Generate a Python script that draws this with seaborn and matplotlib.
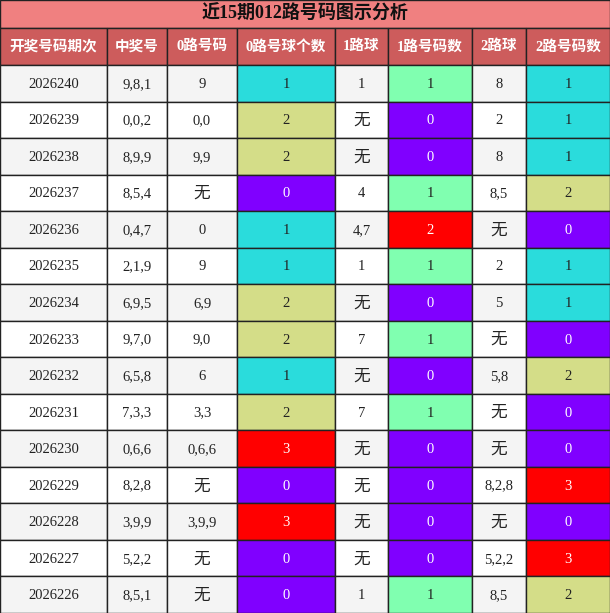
import matplotlib
matplotlib.use("Agg")
import matplotlib.pyplot as plt
from matplotlib.patches import Rectangle
import seaborn as sns

sns.set_theme(style="white")
plt.rcParams['font.family'] = ['Liberation Serif', 'Noto Sans CJK SC']

title = "近15期012路号码图示分析"
headers = ["开奖号码期次", "中奖号", "0路号码", "0路号球个数", "1路球", "1路号码数", "2路球", "2路号码数"]

periods = ["2026240", "2026239", "2026238", "2026237", "2026236", "2026235", "2026234", "2026233",
           "2026232", "2026231", "2026230", "2026229", "2026228", "2026227", "2026226"]
draws = ["9,8,1", "0,0,2", "8,9,9", "8,5,4", "0,4,7", "2,1,9", "6,9,5", "9,7,0",
         "6,5,8", "7,3,3", "0,6,6", "8,2,8", "3,9,9", "5,2,2", "8,5,1"]
road0 = ["9", "0,0", "9,9", "无", "0", "9", "6,9", "9,0", "6", "3,3", "0,6,6", "无", "3,9,9", "无", "无"]
count0 = [1, 2, 2, 0, 1, 1, 2, 2, 1, 2, 3, 0, 3, 0, 0]
road1 = ["1", "无", "无", "4", "4,7", "1", "无", "7", "无", "7", "无", "无", "无", "无", "1"]
count1 = [1, 0, 0, 1, 2, 1, 0, 1, 0, 1, 0, 0, 0, 0, 1]
road2 = ["8", "2", "8", "8,5", "无", "2", "5", "无", "5,8", "无", "无", "8,2,8", "无", "5,2,2", "8,5"]
count2 = [1, 1, 1, 2, 0, 1, 1, 0, 2, 0, 0, 3, 0, 3, 2]

# colours per count value (1路 column uses its own palette)
pal_02 = {0: "#8000FF", 1: "#2ADCDC", 2: "#D4DD88", 3: "#FF0000"}
pal_1 = {0: "#8000FF", 1: "#80FFB0", 2: "#FF0000", 3: "#FF0000"}

col_edges = [0, 107, 167, 237, 335, 388, 472, 526, 610]
W, H = 610, 613
title_h, head_h = 28, 37
row_h = (H - title_h - head_h) / len(periods)

fig = plt.figure(figsize=(6.10, 6.13), dpi=100)
ax = fig.add_axes([0, 0, 1, 1])
ax.set_xlim(0, W)
ax.set_ylim(H, 0)
ax.axis("off")

# title
ax.add_patch(Rectangle((0, 0), W, title_h, facecolor="#F08080", edgecolor="#222222", lw=1))
ax.text(W / 2, title_h / 2, title, ha="center", va="center", fontsize=13, fontweight="bold", color="#111111")

# header
for i, h in enumerate(headers):
    x0, x1 = col_edges[i], col_edges[i + 1]
    ax.add_patch(Rectangle((x0, title_h), x1 - x0, head_h, facecolor="#CD5C5C", edgecolor="#222222", lw=1))
    ax.text((x0 + x1) / 2, title_h + head_h / 2, h, ha="center", va="center",
            fontsize=10.5, fontweight="bold", color="white")

for r in range(len(periods)):
    y0 = title_h + head_h + r * row_h
    base = "#F4F4F4" if r % 2 == 0 else "white"
    cells = [
        (periods[r], base, "#222222"),
        (draws[r], base, "#222222"),
        (road0[r], base, "#222222"),
        (str(count0[r]), pal_02[count0[r]], "white" if count0[r] in (0, 3) else "#222222"),
        (road1[r], base, "#222222"),
        (str(count1[r]), pal_1[count1[r]], "white" if count1[r] in (0, 2, 3) else "#222222"),
        (road2[r], base, "#222222"),
        (str(count2[r]), pal_02[count2[r]], "white" if count2[r] in (0, 3) else "#222222"),
    ]
    for i, (txt, fc, tc) in enumerate(cells):
        x0, x1 = col_edges[i], col_edges[i + 1]
        ax.add_patch(Rectangle((x0, y0), x1 - x0, row_h, facecolor=fc, edgecolor="#222222", lw=1))
        fs = 12 if txt == "无" else 10.5
        ax.text((x0 + x1) / 2, y0 + row_h / 2 + 1, txt, ha="center", va="center", fontsize=fs, color=tc)

fig.savefig("out.png", dpi=100)
